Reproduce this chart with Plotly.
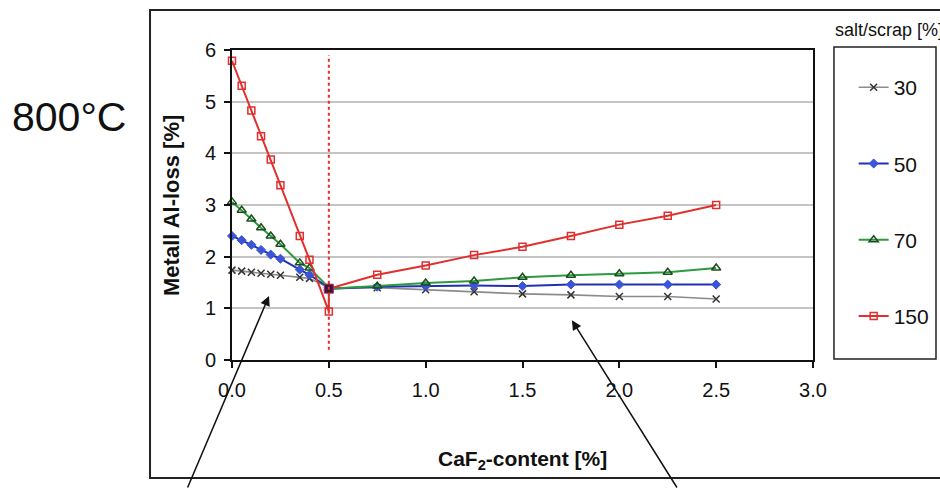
import plotly.graph_objects as go

# ---------------- data ----------------
x_left = [0.0, 0.05, 0.10, 0.15, 0.20, 0.25, 0.35, 0.40, 0.50]
x_right = [0.75, 1.00, 1.25, 1.50, 1.75, 2.00, 2.25, 2.50]

s30_left = [1.74, 1.72, 1.70, 1.68, 1.66, 1.64, 1.60, 1.58, 1.40]
s30_right = [1.40, 1.36, 1.32, 1.28, 1.26, 1.23, 1.23, 1.18]

s50_left = [2.40, 2.32, 2.23, 2.13, 2.04, 1.96, 1.75, 1.65, 1.40]
s50_right = [1.42, 1.43, 1.44, 1.43, 1.46, 1.46, 1.46, 1.46]

s70_left = [3.06, 2.90, 2.73, 2.56, 2.40, 2.24, 1.88, 1.78, 1.40]
s70_right = [1.43, 1.49, 1.53, 1.60, 1.64, 1.67, 1.70, 1.78]

s150_left = [5.79, 5.31, 4.83, 4.33, 3.88, 3.38, 2.40, 1.94, 0.94]
s150_right = [1.65, 1.83, 2.03, 2.19, 2.40, 2.62, 2.79, 3.00]

junction_x = [0.5]
junction_y = [1.38]

names = ["30", "50", "70", "150"]
x_ticks = [0.0, 0.5, 1.0, 1.5, 2.0, 2.5, 3.0]
x_tick_text = ["0.0", "0.5", "1.0", "1.5", "2.0", "2.5", "3.0"]
y_ticks = [0, 1, 2, 3, 4, 5, 6]

# ---------------- styles ----------------
styles = {
    "30": dict(line=dict(color="#8c8c8c", width=1.6),
               marker=dict(symbol="x-thin-open", size=7, color="#333333",
                           line=dict(color="#333333", width=1.5))),
    "50": dict(line=dict(color="#2030b0", width=2),
               marker=dict(symbol="diamond", size=7, color="#3a55d8",
                           line=dict(color="#3a55d8", width=1))),
    "70": dict(line=dict(color="#2e9a3e", width=2),
               marker=dict(symbol="triangle-up-open", size=8, color="#1b4d1f",
                           line=dict(color="#1b4d1f", width=1.5))),
    "150": dict(line=dict(color="#e0302e", width=2),
                marker=dict(symbol="square-open", size=7, color="#e0302e",
                            line=dict(color="#e0302e", width=1.5))),
}

series = {
    "30": (s30_left, s30_right),
    "50": (s50_left, s50_right),
    "70": (s70_left, s70_right),
    "150": (s150_left, s150_right),
}

fig = go.Figure()
for i, n in enumerate(names):
    left, right = series[n]
    xs = x_left + junction_x + x_right
    ys = left + junction_y + right
    fig.add_trace(go.Scatter(
        x=xs, y=ys, mode="lines+markers", name=n,
        legendgroup="g" + n, cliponaxis=False,
        **styles[n]))

fig.add_trace(go.Scatter(
    x=junction_x, y=junction_y, mode="markers", showlegend=False,
    marker=dict(symbol="square", size=9, color="#3a1a30",
                line=dict(color="#b02a80", width=1))))

# vertical red dotted line at 0.5
fig.add_shape(type="line", xref="x", yref="y", x0=0.5, x1=0.5, y0=0.2, y1=5.9,
              line=dict(color="#e0302e", width=2, dash="dot"))

# frames
fig.add_shape(type="rect", xref="paper", yref="paper",
              x0=-0.1411, x1=1.30, y0=-0.3806, y1=1.129,
              line=dict(color="#222222", width=2), layer="below")
fig.add_shape(type="rect", xref="paper", yref="paper",
              x0=1.0361, x1=1.2117, y0=0.0032, y1=1.0097,
              line=dict(color="#222222", width=1.5))

# texts
fig.add_annotation(text="800°C", xref="paper", yref="paper", x=-0.382, y=0.784,
                   xanchor="left", yanchor="middle", showarrow=False,
                   font=dict(size=41, color="#111111", family="Liberation Sans"))
fig.add_annotation(text="salt/scrap [%]", xref="paper", yref="paper", x=1.034, y=1.0645,
                   xanchor="left", yanchor="middle", showarrow=False,
                   font=dict(size=18, color="#111111", family="Liberation Sans"))
fig.add_annotation(text="<b>Metall Al-loss [%]</b>", xref="paper", yref="paper",
                   x=-0.105, y=0.5, textangle=-90, showarrow=False,
                   xanchor="center", yanchor="middle",
                   font=dict(size=22, color="#111111", family="Liberation Sans"))
fig.add_annotation(text="<b>CaF<sub>2</sub>-content [%]</b>", xref="paper", yref="paper",
                   x=0.5, y=-0.3226, showarrow=False,
                   xanchor="center", yanchor="middle",
                   font=dict(size=21, color="#111111", family="Liberation Sans"))

# arrows
fig.add_annotation(x=0.191, y=1.24, xref="x", yref="y", ax=-82, ay=193,
                   showarrow=True, arrowhead=2, arrowsize=1.3, arrowwidth=1.5,
                   arrowcolor="#111111", text="")
fig.add_annotation(x=1.755, y=0.77, xref="x", yref="y", ax=106, ay=169,
                   showarrow=True, arrowhead=2, arrowsize=1.3, arrowwidth=1.5,
                   arrowcolor="#111111", text="")

fig.update_layout(
    width=940, height=489,
    margin=dict(l=232, r=127, t=50, b=129, autoexpand=False),
    paper_bgcolor="white", plot_bgcolor="white",
    font=dict(family="Liberation Sans", color="#111111"),
    showlegend=True,
    legend=dict(x=1.070, y=0.945, xanchor="left", yanchor="top",
                bgcolor="rgba(0,0,0,0)", borderwidth=0,
                tracegroupgap=46, traceorder="grouped",
                font=dict(size=21, family="Liberation Sans", color="#111111")),
    xaxis=dict(range=[0, 3], tickvals=x_ticks, ticktext=x_tick_text,
               showgrid=False, zeroline=False, showline=True, mirror=True,
               linecolor="#111111", linewidth=2, ticks="outside", ticklen=6,
               tickwidth=1.5, tickcolor="#111111", ticklabelstandoff=5,
               tickfont=dict(size=20, family="Liberation Sans")),
    yaxis=dict(range=[0, 6], tickvals=y_ticks,
               showgrid=True, gridcolor="#c4c4c4", gridwidth=1.5,
               zeroline=False, showline=True, mirror=True,
               linecolor="#111111", linewidth=2, ticks="outside", ticklen=6,
               tickwidth=1.5, tickcolor="#111111", ticklabelstandoff=4,
               tickfont=dict(size=20, family="Liberation Sans")),
)

fig.write_html("out.html")
